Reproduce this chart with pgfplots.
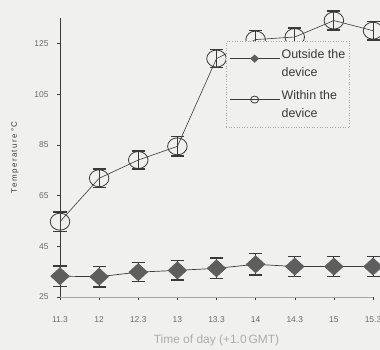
\documentclass[border=0pt]{standalone}
\usepackage{fontspec}
\setmainfont{Liberation Sans}
\usepackage{pgfplots}
\pgfplotsset{compat=1.18}
\definecolor{paper}{HTML}{F0F0EE}
\definecolor{ink}{HTML}{3A3A3A}
\definecolor{tickc}{HTML}{6A6A6A}
\definecolor{diam}{HTML}{5E5E5E}
\begin{document}
\begin{tikzpicture}[x=1bp,y=1bp]
\path[use as bounding box, fill=paper] (0,0) rectangle (380,350);
\begin{axis}[
  at={(60bp,53bp)}, anchor=south west,
  scale only axis, width=313bp, height=279bp,
  xmin=0, xmax=8, ymin=25, ymax=135,
  axis lines*=left,
  axis line style={draw=ink, line width=0.6bp},
  x axis line style={draw=gray!60!red!60!white},
  xtick={0,...,8},
  xticklabels={11.3,12,12.3,13,13.3,14,14.3,15,15.3},
  ytick={25,45,65,85,105,125},
  tick align=outside, major tick length=3bp,
  tick style={draw=ink, line width=0.5bp},
  tick label style={font=\fontsize{8.5}{10}\selectfont, text=tickc},
  xticklabel style={yshift=-13bp},
  yticklabel style={xshift=-5bp},
  /pgf/number format/assume math mode=true,
  xlabel={Time of day (+1.0\,GMT)},
  xlabel style={font=\fontsize{12}{14}\selectfont, text=gray!65, yshift=-5bp},
  ylabel={T\,e\,m\,p\,e\,r\,a\,t\,u\,r\,e\,\,°\,C},
  ylabel style={font=\fontsize{8}{9}\selectfont, text=ink, yshift=9bp},
  clip=false,
  legend cell align=left,
  legend style={at={(0.53,0.918)}, anchor=north west,
    draw=gray!70, dotted, fill=paper, line width=0.6bp,
    font=\fontsize{12.5}{18.5}\selectfont, text=ink,
    row sep=8bp, inner xsep=3bp, inner ysep=6bp,
    nodes={align=left, solid, inner xsep=1.5bp}},
  legend image code/.code={
    \draw[#1, solid, mark repeat=2, mark phase=2, line width=0.9bp, mark size=3.5bp]
      plot coordinates {(0bp,5bp) (25bp,5bp) (50bp,5bp)};},
]
\addplot[ink, line width=0.7bp, mark=diamond*, mark size=8.5bp,
  mark options={solid, xscale=1.45, fill=diam, draw=diam},
  error bars/.cd, y dir=both, y explicit,
  error bar style={ink, line width=0.8bp},
  error mark options={rotate=90, mark size=6.5bp, line width=1.4bp, ink}]
  table[x=x, y=y, y error=e] {
x y e
0 33.2 4.0
1 33.0 4.0
2 34.8 3.8
3 35.5 3.8
4 36.3 4.0
5 37.9 4.2
6 37.0 4.0
7 37.0 4.0
8 37.0 4.0
};
\addlegendentry{Outside the\\device}
\addplot[ink, line width=0.6bp, mark=o, mark size=8.5bp,
  mark options={solid, xscale=1.15, draw=ink, line width=0.8bp},
  error bars/.cd, y dir=both, y explicit,
  error bar style={ink, line width=0.8bp},
  error mark options={rotate=90, mark size=6.5bp, line width=1.4bp, ink}]
  table[x=x, y=y, y error=e] {
x y e
0 54.7 3.8
1 71.8 3.6
2 79.0 3.6
3 84.4 3.8
4 119.0 3.6
5 126.5 3.6
6 127.5 3.6
7 134.0 3.8
8 130.0 3.6
};
\addlegendentry{Within the\\device}
\end{axis}
\end{tikzpicture}
\end{document}
